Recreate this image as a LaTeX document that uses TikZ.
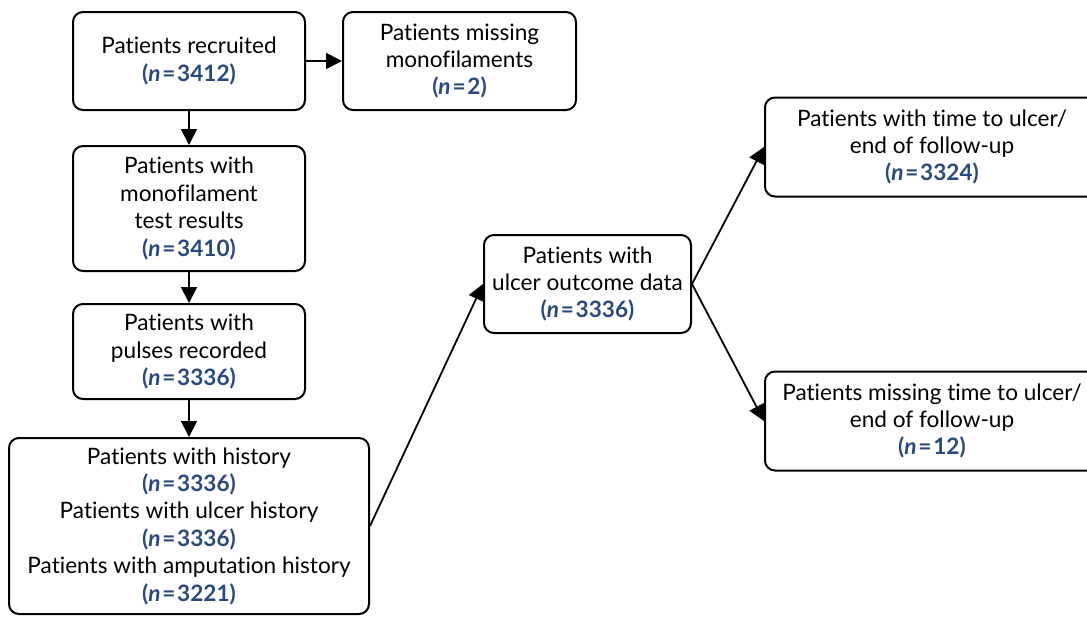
\documentclass[tikz,border=0pt]{standalone}
\usepackage{fontspec}
\setmainfont{Lato}[Ligatures=NoCommon]
\usepackage{xcolor}
\usepackage{tikz}
\usetikzlibrary{positioning,arrows.meta}
\definecolor{nblue}{HTML}{2B4A7C}
\newcommand{\nval}[1]{{\color{nblue}\bfseries(\textit{n}\kern0.9pt=\kern0.9pt#1)}}

\begin{document}
\begin{tikzpicture}[x=0.5pt, y=-0.5pt,
  box/.style={draw, line width=1pt, rounded corners=5pt, fill=white, align=center, font=\fontsize{11.3}{13.7}\selectfont, inner sep=2pt, minimum width=116pt, minimum height=49pt},
  arr/.style={-{Triangle[length=8pt,width=8pt]}, line width=0.9pt}]
\useasboundingbox (0,0) rectangle (1087,616);
\node[box] (rec) at (189,61) {Patients recruited\\\nval{3412}};
\node[box, minimum width=116.5pt] (mmiss) at (459.5,61) {Patients missing\\monofilaments\\\nval{2}};
\node[box, minimum height=62.5pt] (mono) at (189,208.5) {Patients with\\monofilament\\test results\\\nval{3410}};
\node[box, minimum height=47.5pt] (puls) at (189,351.5) {Patients with\\pulses recorded\\\nval{3336}};
\node[box, minimum width=180pt, minimum height=88pt] (hist) at (189,526) {Patients with history\\\nval{3336}\\Patients with ulcer history\\\nval{3336}\\Patients with amputation history\\\nval{3221}};
\node[box, minimum width=103.5pt] (outc) at (587.5,284) {Patients with\\ulcer outcome data\\\nval{3336}};
\node[box, minimum width=167pt, minimum height=49.5pt] (tul) at (932,147) {Patients with time to ulcer/\\end of follow-up\\\nval{3324}};
\node[box, minimum width=167pt, minimum height=49.5pt] (tmiss) at (932,421) {Patients missing time to ulcer/\\end of follow-up\\\nval{12}};
\draw[arr] (rec) -- (mmiss); \draw[arr] (rec) -- (mono); \draw[arr] (mono) -- (puls); \draw[arr] (puls) -- (hist);
\draw[arr] (hist.east) -- (outc.west);
\draw[arr] (outc.east) -- (tul.west); \draw[arr] (outc.east) -- (tmiss.west);
\end{tikzpicture}
\end{document}
